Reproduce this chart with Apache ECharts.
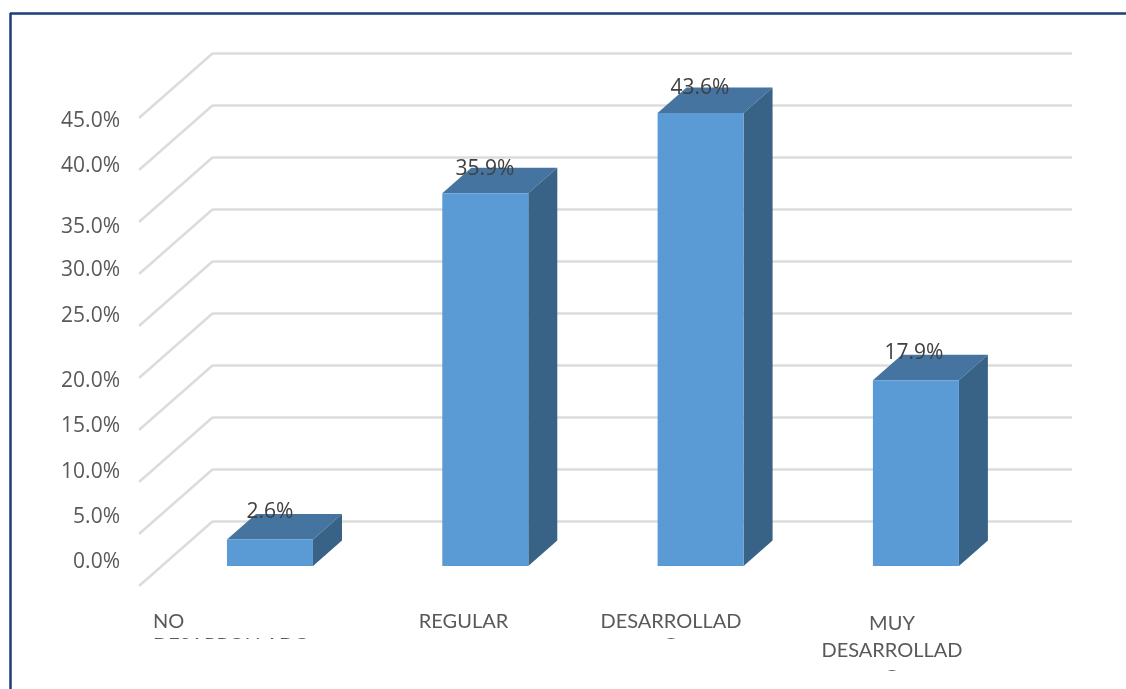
<!DOCTYPE html>
<html><head><meta charset="utf-8">
<style>html,body{margin:0;padding:0;background:#fff}#c{width:1126px;height:689px}</style>
<script src="https://cdn.jsdelivr.net/npm/echarts@6/dist/echarts.min.js"></script>
</head><body><div id="c"></div>
<script>
const categories = ['NO\nDESARROLLADO', 'REGULAR', 'DESARROLLAD\nO', 'MUY\nDESARROLLAD\nO'];
const values = [2.6, 35.9, 43.6, 17.9];
const ticks = [0, 5, 10, 15, 20, 25, 30, 35, 40, 45];
const tickLabelNudge = [41.5, 48.5, 55.5, 61.5, 68.5, 55.5, 61.5, 70.5, 61.5, 68.5];
const catLabelX = [153, 463.5, 671, 892];
const catLabelAlign = ['left', 'center', 'center', 'center'];
const catLineHeight = [24, 24, 24, 27];
const valueLabelX = [270, 485, 700, 914];
const valueLabelUp = [27, 24.5, 25, 27];

const FRONT = 45, DX = 29, DY = 25.5, BARW = 86, SPREAD = 1.0026;
const WALL_DX = 74, WALL_DY = 65;
const chart = echarts.init(document.getElementById('c'), null, {renderer: 'canvas'});

function barItem(params, api) {
  const i = api.value(0), v = api.value(1);
  const c = api.coord([i, 0]);
  const t = api.coord([i, v]);
  const l = 227 + (c[0] - 320.4) * SPREAD, r = l + BARW;
  const b = c[1] + FRONT, top = t[1] + FRONT + 0.5;
  return {type: 'group', children: [
    {type: 'polygon', shape: {points: [[l, top], [l + DX, top - DY], [r + DX, top - DY], [r, top]]}, style: {fill: '#44749f'}},
    {type: 'polygon', shape: {points: [[r, top], [r + DX, top - DY], [r + DX, b - DY], [r, b]]}, style: {fill: '#386387'}},
    {type: 'rect', shape: {x: l, y: top, width: BARW, height: b - top}, style: {fill: '#5b9bd5'}},
    {type: 'text', z2: 10, style: {text: values[i].toFixed(1) + '%', x: valueLabelX[i], y: top - valueLabelUp[i],
      align: 'center', verticalAlign: 'middle', fill: '#404040', font: '21px "Open Sans"'}}
  ]};
}
function wallItem(params, api) {
  const p = api.coord([0, api.value(0)]);
  return {type: 'line', shape: {x1: 213, y1: p[1], x2: 213 - WALL_DX, y2: p[1] + WALL_DY},
    style: {stroke: '#dcdcdc', lineWidth: 2.5, fill: null}};
}
function tickLabelItem(params, api) {
  const k = params.dataIndex;
  const p = api.coord([0, api.value(0)]);
  return {type: 'text', style: {text: ticks[k].toFixed(1) + '%', x: 120, y: p[1] + tickLabelNudge[k],
    align: 'right', verticalAlign: 'middle', fill: '#595959', font: '21px "Open Sans"'}};
}
function catLabelItem(params, api) {
  const k = params.dataIndex;
  return {type: 'text', style: {text: categories[k], x: catLabelX[k], y: 610,
    align: catLabelAlign[k], verticalAlign: 'top', fill: '#595959',
    font: '20px Lato', lineHeight: catLineHeight[k]}};
}

chart.setOption({
  animation: false,
  backgroundColor: '#ffffff',
  grid: {left: 213, right: 54, top: 53, bottom: 168, containLabel: false},
  xAxis: {type: 'category', data: categories.map((c, i) => i), axisLine: {show: false}, axisTick: {show: false}, axisLabel: {show: false}},
  yAxis: {type: 'value', min: 0, max: 45, interval: 5, axisLine: {show: false}, axisTick: {show: false}, axisLabel: {show: false},
    splitLine: {show: true, lineStyle: {color: '#dcdcdc', width: 2.5}}},
  graphic: [
    {type: 'rect', z: 100, shape: {x: 135, y: 639, width: 640, height: 52}, style: {fill: '#fff'}},
    {type: 'rect', z: 100, shape: {x: 800, y: 671, width: 200, height: 20}, style: {fill: '#fff'}},
    {type: 'line', z: 101, shape: {x1: 10.5, y1: 13, x2: 10.5, y2: 689}, style: {stroke: '#1c3c7c', lineWidth: 2.5}},
    {type: 'line', z: 101, shape: {x1: 10, y1: 13.5, x2: 1126, y2: 13.5}, style: {stroke: '#1c3c7c', lineWidth: 2.5}}
  ],
  series: [
    {type: 'custom', coordinateSystem: 'cartesian2d', renderItem: wallItem, clip: false, z: 1, silent: true,
      data: ticks.map(t => [t]), encode: {y: 0}},
    {type: 'custom', coordinateSystem: 'cartesian2d', renderItem: tickLabelItem, clip: false, z: 3, silent: true,
      data: ticks.map(t => [t]), encode: {y: 0}},
    {type: 'custom', coordinateSystem: 'cartesian2d', renderItem: catLabelItem, clip: false, z: 3, silent: true,
      data: categories.map((c, i) => [i]), encode: {x: 0}},
    {type: 'custom', coordinateSystem: 'cartesian2d', renderItem: barItem, clip: false, z: 5, silent: true,
      data: values.map((v, i) => [i, v]), encode: {x: 0, y: 1}}
  ]
});
</script></body></html>
